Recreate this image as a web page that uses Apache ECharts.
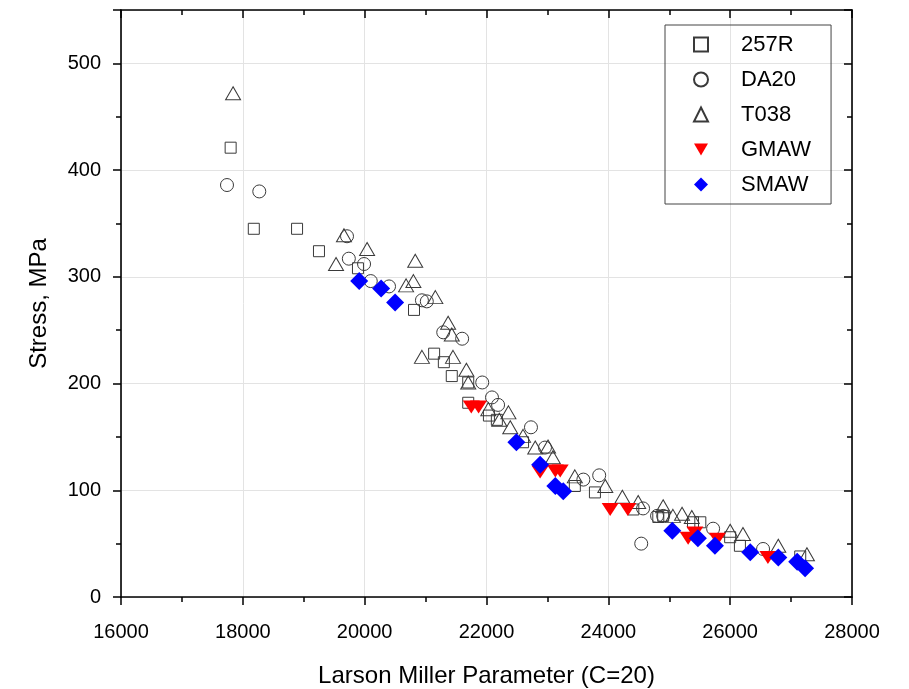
<!doctype html>
<html>
<head>
    <meta charset="utf-8">
    <title>LMP</title>
    <style type="text/css">
        body, html {
            width: 100%;
            height: 100%;
            margin: 0;
            padding: 0;
            background: #fff;
        }
    </style>
</head>
<body>
<div id="container" style="width: 909px; height: 689px"></div>

<script type="text/javascript" src="https://fastly.jsdelivr.net/npm/echarts@6/dist/echarts.min.js"></script>
<script type="text/javascript">
    // data: [LMP, stress MPa]
    const r257 = [
        [17800, 421], [18180, 345], [18890, 345], [19250, 324], [19890, 308], [20810, 269],
        [21140, 228], [21300, 220], [21430, 207], [21700, 201], [21700, 182], [22040, 170],
        [22170, 166], [22600, 145], [23450, 104], [23780, 98], [24410, 82], [24820, 75],
        [24900, 76], [25390, 70], [25510, 70], [26000, 56], [26160, 48], [27150, 38]
    ];
    const da20 = [
        [17740, 386], [18270, 380], [19710, 338], [19740, 317], [19990, 312], [20100, 296],
        [20400, 291], [20940, 278], [21020, 277], [21290, 248], [21600, 242], [21930, 201],
        [22090, 187], [22190, 180], [22730, 159], [22960, 140], [23590, 110], [23850, 114],
        [24570, 83], [24540, 50], [24800, 76], [24900, 76], [25720, 64], [26540, 45]
    ];
    const t038 = [
        [17840, 472], [19660, 339], [19530, 312], [20040, 326], [20830, 315], [20800, 296],
        [20680, 292], [21160, 281], [21370, 257], [21430, 246], [20940, 225], [21450, 225],
        [21670, 213], [21700, 201], [22030, 176], [22210, 166], [22360, 173], [22390, 159],
        [22600, 151], [22800, 140], [23010, 141], [23090, 131], [23450, 113], [23950, 104],
        [24230, 94], [24490, 89], [24900, 85], [25060, 76], [25210, 78], [25370, 75],
        [26000, 62], [26210, 59], [26790, 48], [27260, 40]
    ];
    const gmaw = [
        [21750, 178], [21870, 178], [22880, 117], [23130, 118], [23210, 118], [24030, 82],
        [24320, 82], [25310, 55], [25420, 60], [25790, 54], [26620, 37]
    ];
    const smaw = [
        [19910, 296], [20270, 289], [20500, 276], [22490, 145], [22880, 124], [23130, 104],
        [23260, 99], [25050, 62], [25470, 55], [25750, 48], [26330, 42], [26790, 37],
        [27100, 33], [27230, 27]
    ];
    const seriesNames = ['257R', 'DA20', 'T038', 'GMAW', 'SMAW'];

    const font = 'Liberation Sans, Arial, sans-serif';
    const downTri = 'path://M0,0L10,0L5,8.66Z';
    const hollow = {color: 'rgba(255,255,255,0)', borderColor: '#3a3a3a', borderWidth: 1, opacity: 1};

    const myChart = echarts.init(document.getElementById('container'), null, {renderer: 'canvas'});

    const xBase = {
        type: 'value', min: 16000, max: 28000, interval: 2000
    };
    const yBase = {
        type: 'value', min: 0, max: 550, interval: 100
    };
    const axisLine = {show: true, onZero: false, lineStyle: {color: '#000', width: 1.6}};

    const option = {
        animation: false,
        backgroundColor: '#fff',
        grid: {left: 121, right: 57, top: 10, bottom: 92, outerBoundsMode: 'none', containLabel: false},
        legend: {
            orient: 'vertical',
            left: 665,
            top: 25,
            padding: [8, 20, 8, 28],
            itemGap: 12,
            itemWidth: 14,
            itemHeight: 14,
            borderColor: '#444',
            borderWidth: 1,
            textStyle: {fontFamily: font, fontSize: 22, color: '#000', lineHeight: 23, padding: [0, 0, 0, 28]},
            data: seriesNames
        },
        xAxis: [
            Object.assign({}, xBase, {
                position: 'bottom',
                name: 'Larson Miller Parameter (C=20)',
                nameLocation: 'middle',
                nameGap: 67,
                nameTextStyle: {fontFamily: font, fontSize: 24, color: '#000'},
                axisLine: axisLine,
                axisTick: {show: true, inside: false, length: 8, lineStyle: {color: '#000', width: 1.5}},
                minorTick: {show: true, splitNumber: 2, length: 5, lineStyle: {color: '#000', width: 1.5}},
                axisLabel: {fontFamily: font, fontSize: 20, color: '#000', margin: 25,
                    formatter: function (v) { return String(v); }},
                splitLine: {show: true, lineStyle: {color: '#e3e3e3', width: 1}}
            }),
            Object.assign({}, xBase, {
                position: 'top',
                axisLine: axisLine,
                axisTick: {show: true, inside: true, length: 8, lineStyle: {color: '#000', width: 1.5}},
                minorTick: {show: true, splitNumber: 2, length: 5, lineStyle: {color: '#000', width: 1.5}},
                axisLabel: {show: false},
                splitLine: {show: false}
            })
        ],
        yAxis: [
            Object.assign({}, yBase, {
                position: 'left',
                name: 'Stress, MPa',
                nameLocation: 'middle',
                nameGap: 70,
                nameTextStyle: {fontFamily: font, fontSize: 24, color: '#000'},
                axisLine: axisLine,
                axisTick: {show: true, inside: false, length: 8, lineStyle: {color: '#000', width: 1.5}},
                minorTick: {show: true, splitNumber: 2, length: 5, lineStyle: {color: '#000', width: 1.5}},
                axisLabel: {fontFamily: font, fontSize: 20, color: '#000', margin: 20, showMaxLabel: false},
                splitLine: {show: true, lineStyle: {color: '#e3e3e3', width: 1}}
            }),
            Object.assign({}, yBase, {
                position: 'right',
                axisLine: axisLine,
                axisTick: {show: true, inside: true, length: 8, lineStyle: {color: '#000', width: 1.5}},
                minorTick: {show: true, splitNumber: 2, length: 5, lineStyle: {color: '#000', width: 1.5}},
                axisLabel: {show: false},
                splitLine: {show: false}
            })
        ],
        series: [
            {name: '257R', type: 'scatter', symbol: 'rect', symbolSize: 11, itemStyle: hollow, data: r257},
            {name: 'DA20', type: 'scatter', symbol: 'circle', symbolSize: 13, itemStyle: hollow, data: da20},
            {name: 'T038', type: 'scatter', symbol: 'triangle', symbolSize: [15, 13], itemStyle: hollow, data: t038},
            {name: 'GMAW', type: 'scatter', symbol: downTri, symbolSize: [17, 15], symbolKeepAspect: true,
                itemStyle: {color: '#ff0000', opacity: 1}, data: gmaw},
            {name: 'SMAW', type: 'scatter', symbol: 'diamond', symbolSize: 18,
                itemStyle: {color: '#0000ff', opacity: 1}, data: smaw}
        ]
    };

    myChart.setOption(option);
    window.addEventListener('resize', myChart.resize);
</script>
</body>
</html>
